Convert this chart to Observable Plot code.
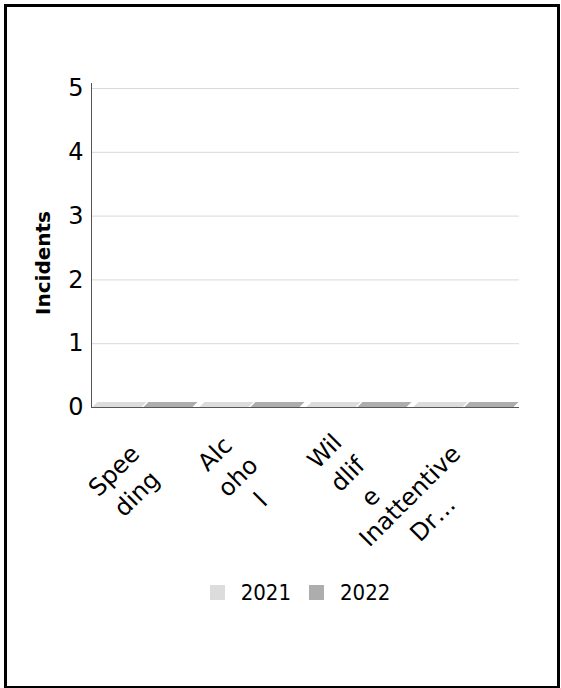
<!DOCTYPE html>
<html>
<head>
<meta charset="utf-8">
<script src="https://cdn.jsdelivr.net/npm/d3@7"></script>
<script src="https://cdn.jsdelivr.net/npm/@observablehq/plot@0.6"></script>
<style>
  html, body { margin: 0; padding: 0; background: #fff; }
  body { width: 561px; height: 688px; position: relative; overflow: hidden;
         font-family: 'DejaVu Sans Condensed', 'DejaVu Sans', sans-serif; }
  #frame { position: absolute; left: 4px; top: 4px; width: 550px; height: 679px;
           border: 3px solid #000; border-bottom-width: 2px; box-sizing: content-box; }
  #chart { position: absolute; left: 0; top: 0; }
  #legend { position: absolute; left: 0; top: 580px; width: 600px; display: flex;
            justify-content: center; align-items: center; font-size: 22px; color: #000; }
  .item { display: flex; align-items: center; margin: 0 9px; }
  .sw { width: 15px; height: 15px; margin-right: 16px; }
</style>
</head>
<body>
<div id="frame"></div>
<div id="chart"></div>
<div id="legend"></div>
<script>
const categories = ["Speeding", "Alcohol", "Wildlife", "Inattentive Driving"];
const tickLabels = ["Spee\nding", "Alc\noho\nl", "Wil\ndlif\ne", "Inattentive\nDr…"];
const years = ["2021", "2022"];
const values2021 = [0, 0, 0, 0];
const values2022 = [0, 0, 0, 0];
const yTicks = [0, 1, 2, 3, 4, 5];
const yLabel = "Incidents";
const colors = ["#dcdcdc", "#adadad"];

const data = categories.flatMap((c, i) => [
  {category: c, year: years[0], value: values2021[i]},
  {category: c, year: years[1], value: values2022[i]}
]);

const chart = Plot.plot({
  width: 561,
  height: 570,
  marginLeft: 90,
  marginRight: 41,
  marginTop: 88,
  marginBottom: 163,
  style: {fontFamily: "'DejaVu Sans',sans-serif", fontSize: "24px", color: "#000", background: "transparent", overflow: "visible"},
  fx: {domain: categories, padding: 0, label: null},
  x: {domain: years, paddingInner: 0.04, paddingOuter: 0.06, axis: null},
  y: {domain: [0, 5], label: null},
  color: {domain: years, range: colors},
  marks: [
    Plot.gridY(yTicks, {stroke: "#d9d9d9", strokeOpacity: 1}),
    Plot.barY(data, {fx: "category", x: "year", y: "value", fill: "year", insetTop: -5}),
    Plot.ruleY([0], {stroke: "#555"}),
    Plot.frame({anchor: "left", facetAnchor: "left", stroke: "#555", insetTop: -5}),
    Plot.axisY(yTicks, {tickSize: 0, tickPadding: 8, label: null, fontSize: 24, tickFormat: d3.format("d")}),
    Plot.axisFx({anchor: "bottom", tickRotate: -45, tickSize: 0, tickPadding: 52, lineHeight: 1.35, fontSize: 24,
                 tickFormat: c => tickLabels[categories.indexOf(c)], label: null}),
    Plot.text([yLabel], {frameAnchor: "left", facetAnchor: "left", textAnchor: "middle", dx: -48, dy: 15, rotate: -90, fontWeight: "bold", fontSize: 20})
  ]
});
d3.select(chart).selectAll("g[aria-label='bar'] rect")
  .style("transform-box", "fill-box")
  .style("transform-origin", "center")
  .style("transform", "skewX(-45deg)");
document.getElementById("chart").appendChild(chart);

// Center the wrapped lines of each rotated category label within its block,
// keeping the block's end anchored at the category.
d3.select(chart).selectAll("g[aria-label='fx-axis tick label'] text").each(function () {
  const spans = d3.select(this).selectAll("tspan");
  if (spans.empty()) return;
  let maxW = 0;
  spans.each(function () { maxW = Math.max(maxW, this.getComputedTextLength()); });
  spans.attr("text-anchor", "middle").attr("x", -maxW / 2);
});

const legend = d3.select("#legend");
years.forEach((y, i) => {
  const it = legend.append("div").attr("class", "item");
  it.append("div").attr("class", "sw").style("background", colors[i]);
  it.append("span").text(y);
});
</script>
</body>
</html>
